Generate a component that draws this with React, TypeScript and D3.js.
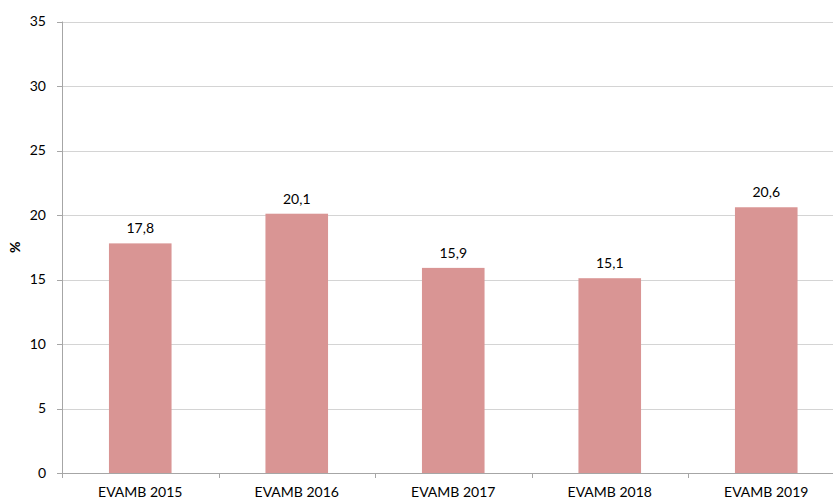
import React from "react";
import * as d3 from "d3";

const categories = ["EVAMB 2015", "EVAMB 2016", "EVAMB 2017", "EVAMB 2018", "EVAMB 2019"];
const values = [17.8, 20.1, 15.9, 15.1, 20.6];
const yTicks = [0, 5, 10, 15, 20, 25, 30, 35];
const yLabel = "%";

const W = 833;
const H = 499;
const left = 62;
const top = 21.5;
const bottom = 473;
const catW = 156.5;
const right = left + catW * categories.length;
const font = "Lato, 'Open Sans', sans-serif";

export default function App() {
  const x = d3.scaleBand<string>().domain(categories).range([left, right]).paddingInner(0.6).paddingOuter(0.3);
  const xc = d3.scaleBand<string>().domain(categories).range([left, right]);
  const y = d3.scaleLinear().domain([0, 35]).range([bottom, top]);
  const fmt = (v: number) => v.toFixed(1).replace(".", ",");
  return (
    <svg width={W} height={H} style={{ position: "absolute", left: 0, top: 0, background: "#fff" }} fontFamily={font}>
      {yTicks.map((t) => (
        <g key={t}>
          {t > 0 && <line x1={left} x2={right} y1={Math.round(y(t)) + 0.5} y2={Math.round(y(t)) + 0.5} stroke="#d4d4d4" />}
          <line x1={left - 5} x2={left} y1={Math.round(y(t)) + 0.5} y2={Math.round(y(t)) + 0.5} stroke="#a6a6a6" />
          <text x={46} y={y(t)} dy="0.35em" textAnchor="end" fontSize={14} fill="#000">{t}</text>
        </g>
      ))}
      {categories.map((c, i) => (
        <g key={c}>
          <rect x={x(c)} y={y(values[i])} width={x.bandwidth()} height={bottom - y(values[i])} fill="#d99594" />
          <text x={x(c)! + x.bandwidth() / 2} y={y(values[i]) - 10} textAnchor="middle" fontSize={14} fill="#000">{fmt(values[i])}</text>
          <text x={xc(c)! + xc.bandwidth() / 2} y={497} textAnchor="middle" fontSize={14} fill="#000">{c}</text>
        </g>
      ))}
      {categories.map((c, i) => (
        <line key={"t" + i} x1={Math.round(xc(c)!) + 0.5} x2={Math.round(xc(c)!) + 0.5} y1={bottom} y2={bottom + 5} stroke="#a6a6a6" />
      ))}
      <line x1={left} x2={right} y1={bottom + 0.5} y2={bottom + 0.5} stroke="#a6a6a6" />
      <line x1={left + 0.5} x2={left + 0.5} y1={top} y2={bottom} stroke="#a6a6a6" />
      <text transform={`translate(20,${(top + bottom) / 2}) rotate(-90)`} textAnchor="middle" fontSize={14} fontWeight="bold" fill="#000">{yLabel}</text>
    </svg>
  );
}
